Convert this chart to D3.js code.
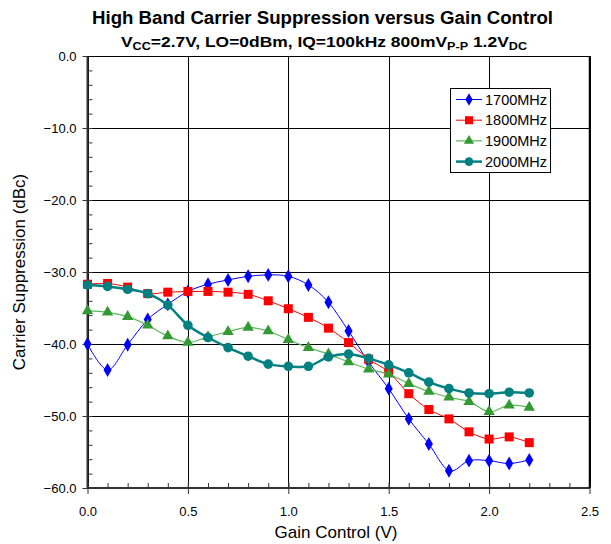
<!DOCTYPE html>
<html><head><meta charset="utf-8">
<script src="https://cdn.jsdelivr.net/npm/d3@7"></script>
<style>body{margin:0;background:#fff;} svg{display:block;font-family:"Liberation Sans",Arial,sans-serif;}</style>
</head><body><svg id="c" width="611" height="544"></svg>
<script>
const gain = [0.0,0.1,0.2,0.3,0.4,0.5,0.6,0.7,0.8,0.9,1.0,1.1,1.2,1.3,1.4,1.5,1.6,1.7,1.8,1.9,2.0,2.1,2.2];
const s1700 = [-40.0,-43.6,-40.1,-36.6,-34.5,-32.7,-31.7,-31.1,-30.6,-30.4,-30.6,-31.8,-34.2,-38.2,-42.5,-46.2,-50.4,-53.9,-57.6,-56.2,-56.2,-56.6,-56.1];
const s1800 = [-31.7,-31.6,-32.1,-33.0,-32.8,-32.7,-32.7,-32.8,-33.1,-34.0,-35.1,-36.3,-37.8,-39.8,-42.1,-43.9,-46.9,-49.1,-50.4,-52.2,-53.2,-52.9,-53.7];
const s1900 = [-35.4,-35.6,-36.2,-37.4,-38.9,-39.8,-39.0,-38.3,-37.7,-38.2,-39.4,-40.5,-41.4,-42.5,-43.5,-44.2,-45.5,-46.6,-47.4,-48.0,-49.4,-48.5,-48.8];
const s2000 = [-31.8,-32.0,-32.4,-33.0,-34.6,-37.4,-39.1,-40.5,-41.7,-42.8,-43.1,-43.1,-41.8,-41.4,-42.0,-42.9,-44.0,-45.3,-46.2,-46.8,-46.9,-46.7,-46.8];
const seriesNames = ["1700MHz","1800MHz","1900MHz","2000MHz"];
const xTicks = [0,0.5,1.0,1.5,2.0,2.5];
const yTicks = [0,-10,-20,-30,-40,-50,-60];

const series = [
  {name:seriesNames[0], values:s1700, line:"#0000ff", fill:"#0000ff", lw:1, sym:d3.symbolDiamond, size:56},
  {name:seriesNames[1], values:s1800, line:"#ff0000", fill:"#ff0000", lw:1, sym:d3.symbolSquare, size:81},
  {name:seriesNames[2], values:s1900, line:"#5cb85c", fill:"#339933", lw:1.2, sym:d3.symbolTriangle, size:56},
  {name:seriesNames[3], values:s2000, line:"#008080", fill:"#008080", lw:2.5, sym:d3.symbolCircle, size:72}
];

const svg = d3.select("#c");
const L=87.5, R=589.5, T=56, B=488;
const x = d3.scaleLinear().domain([0,2.5]).range([L,R]);
const y = d3.scaleLinear().domain([-60,0]).range([B,T]);

// gridlines
const g = svg.append("g");
xTicks.forEach(t=>{ g.append("line").attr("x1",Math.round(x(t))+0.5).attr("x2",Math.round(x(t))+0.5).attr("y1",T).attr("y2",B).attr("stroke","#000").attr("stroke-width",1); });
yTicks.forEach(t=>{ g.append("line").attr("x1",L).attr("x2",R).attr("y1",Math.round(y(t))+0.5).attr("y2",Math.round(y(t))+0.5).attr("stroke","#000").attr("stroke-width",1); });

// axes
const xAxisMinor = d3.axisTop(x).tickValues(d3.range(0,2.51,0.1)).tickSize(5).tickFormat("");
svg.append("g").attr("transform",`translate(0,${B})`).call(xAxisMinor).call(a=>{a.select(".domain").remove(); a.selectAll("line").attr("stroke","#333");});
const xAxis = d3.axisBottom(x).tickValues(xTicks).tickSize(6).tickPadding(13).tickFormat(d3.format(".1f"));
svg.append("g").attr("transform",`translate(0,${B})`).call(xAxis)
  .call(a=>{a.select(".domain").attr("stroke","#333").attr("stroke-width",2).attr("d",`M${L},0H${R}`); a.selectAll("line").attr("stroke","#333").attr("y1",-6);
    a.selectAll("text").attr("font-size",13).attr("fill","#000").attr("font-family","Liberation Sans, Arial, sans-serif");});

const yAxisMinor = d3.axisRight(y).tickValues(d3.range(-60,0.1,2)).tickSize(5).tickFormat("");
svg.append("g").attr("transform",`translate(${L},0)`).call(yAxisMinor).call(a=>{a.select(".domain").remove(); a.selectAll("line").attr("stroke","#333");});
const yAxis = d3.axisLeft(y).tickValues(yTicks).tickSize(5).tickPadding(6).tickFormat(d3.format(".1f"));
svg.append("g").attr("transform",`translate(${L},0)`).call(yAxis)
  .call(a=>{a.select(".domain").attr("stroke","#333").attr("stroke-width",2).attr("d",`M0,${T}V${B}`); a.selectAll("line").attr("stroke","#333");
    a.selectAll("text").attr("font-size",13).attr("fill","#000").attr("font-family","Liberation Sans, Arial, sans-serif");});

// top/right frame
svg.append("line").attr("x1",L).attr("x2",R).attr("y1",T+0.5).attr("y2",T+0.5).attr("stroke","#000");
svg.append("line").attr("x1",R).attr("x2",R).attr("y1",T).attr("y2",B).attr("stroke","#000").attr("stroke-width",1.5);

// series
const line = d3.line().x((d,i)=>x(gain[i])).y(d=>y(d)).curve(d3.curveCatmullRom.alpha(0));
series.forEach(s=>{
  svg.append("path").attr("d",line(s.values)).attr("fill","none").attr("stroke",s.line).attr("stroke-width",s.lw);
  svg.append("g").selectAll("path").data(s.values).join("path")
    .attr("transform",(d,i)=>`translate(${x(gain[i])},${y(d)})`)
    .attr("d",d3.symbol().type(s.sym).size(s.size)).attr("fill",s.fill);
});

// legend
const lg = svg.append("g");
lg.append("rect").attr("x",450.5).attr("y",88.5).attr("width",100).attr("height",84).attr("fill","#fff").attr("stroke","#000");
series.forEach((s,i)=>{
  const yy = 99.5 + i*20.7;
  lg.append("line").attr("x1",456).attr("x2",482).attr("y1",yy).attr("y2",yy).attr("stroke",s.line).attr("stroke-width",s.lw);
  lg.append("path").attr("transform",`translate(469,${yy})`).attr("d",d3.symbol().type(s.sym).size(s.size*0.8)).attr("fill",s.fill);
  lg.append("text").attr("x",485).attr("y",yy+5).attr("font-size",14.5).text(s.name);
});

// titles
svg.append("text").attr("x",92).attr("y",23.5).attr("font-size",18).attr("font-weight","bold")
  .attr("textLength",461).attr("lengthAdjust","spacingAndGlyphs").text("High Band Carrier Suppression versus Gain Control");
const st = svg.append("text").attr("x",121).attr("y",47).attr("font-size",14.5).attr("font-weight","bold")
  .attr("textLength",406).attr("lengthAdjust","spacingAndGlyphs");
const parts = [["V",0],["CC",1],["=2.7V, LO=0dBm, IQ=100kHz 800mV",0],["P-P",1],[" 1.2V",0],["DC",1]];
let sub=false;
parts.forEach(([t,s])=>{
  const ts = st.append("tspan").text(t);
  if(s){ ts.attr("font-size",10.5).attr("dy", sub?0:3); sub=true; }
  else { ts.attr("dy", sub?-3:0); sub=false; }
});

svg.append("text").attr("x",336).attr("y",538).attr("text-anchor","middle").attr("font-size",17).text("Gain Control (V)");
svg.append("text").attr("transform","translate(25,272) rotate(-90)").attr("text-anchor","middle").attr("font-size",17).text("Carrier Suppression (dBc)");
</script></body></html>
